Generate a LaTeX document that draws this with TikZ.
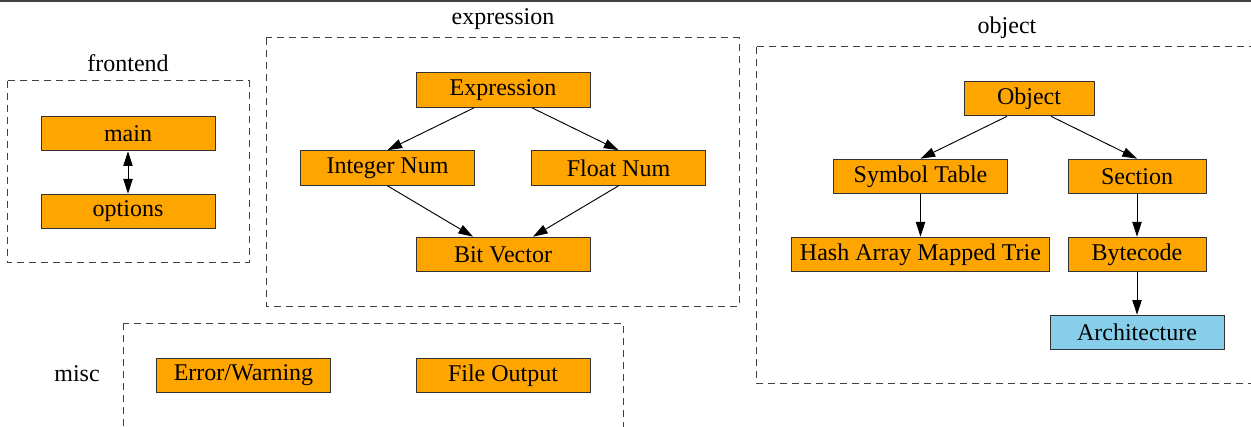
\documentclass[tikz,border=0pt]{standalone}
\usepackage{fontspec}
\setmainfont{Liberation Serif}
\usepackage{xcolor}
\usepackage{tikz}
\usetikzlibrary{arrows.meta,positioning,calc}
\definecolor{modorange}{HTML}{FFA500}
\definecolor{modblue}{HTML}{87CEEB}
\tikzset{
  modbox/.style={draw=black!80,fill=modorange,line width=0.75pt,inner sep=0pt,
    minimum height=26pt,font=\fontsize{18}{20}\selectfont},
  archbox/.style={modbox,fill=modblue},
  clusterbox/.style={draw=black!75,line width=0.75pt,dash pattern=on 5.5pt off 3.5pt},
  clusterlabel/.style={font=\fontsize{18}{20}\selectfont,inner sep=0pt},
  deparrow/.style={-{Triangle[length=11pt,width=7pt]},line width=0.7pt},
  bothwayarrow/.style={{Triangle[length=11pt,width=7pt]}-{Triangle[length=11pt,width=7pt]},line width=0.7pt}
}

\begin{document}
\begin{tikzpicture}[x=0.75pt,y=-0.75pt]
  \useasboundingbox (0,0) rectangle (1251,427);
  \clip (0,0) rectangle (1251,427);
  \draw[black!75,line width=1pt] (0,1) -- (1251,1);

  % clusters
  \draw[clusterbox] (7,81) rectangle (249,263);
  \draw[clusterbox] (266,38) rectangle (739,306);
  \draw[clusterbox] (756,47) rectangle (1270,383);
  \draw[clusterbox] (123,323) rectangle (623,450);
  \node[clusterlabel] (frontendlbl) at (128,63) {frontend};
  \node[clusterlabel] (expressionlbl) at (503,19) {expression};
  \node[clusterlabel] (objectlbl) at (1007,28) {object};
  \node[clusterlabel] (misclbl) at (77,374) {misc};

  % frontend
  \node[modbox,minimum width=130.5pt] (main) at (128,133.5) {main};
  \node[modbox,minimum width=130.5pt] (options) at (128,211.5) {options};
  \draw[bothwayarrow] (main) -- (options);

  % expression
  \node[modbox,minimum width=130.5pt] (expr) at (503,90) {Expression};
  \node[modbox,minimum width=130pt] (intnum) at (387.5,168) {Integer Num};
  \node[modbox,minimum width=130pt] (floatnum) at (618.5,168) {Float Num};
  \node[modbox,minimum width=130.5pt] (bitvec) at (503,254.5) {Bit Vector};
  \draw[deparrow] ($(expr.south)+(-29,0)$) -- (intnum.north);
  \draw[deparrow] ($(expr.south)+(29,0)$) -- (floatnum.north);
  \draw[deparrow] (intnum.south) -- ($(bitvec.north)+(-30,0)$);
  \draw[deparrow] (floatnum.south) -- ($(bitvec.north)+(30,0)$);

  % object
  \node[modbox,minimum width=97.5pt] (object) at (1029,98.5) {Object};
  \node[modbox,minimum width=130pt] (symtab) at (920.5,176.5) {Symbol Table};
  \node[modbox,minimum width=103.5pt] (section) at (1137,176.5) {Section};
  \node[modbox,minimum width=194pt] (hamt) at (920.5,254.5) {Hash Array Mapped Trie};
  \node[modbox,minimum width=103.5pt] (bytecode) at (1137,254.5) {Bytecode};
  \node[archbox,minimum width=130.5pt] (arch) at (1137,332.5) {Architecture};
  \draw[deparrow] ($(object.south)+(-22,0)$) -- (symtab.north);
  \draw[deparrow] ($(object.south)+(22,0)$) -- (section.north);
  \draw[deparrow] (symtab) -- (hamt);
  \draw[deparrow] (section) -- (bytecode);
  \draw[deparrow] (bytecode) -- (arch);

  % misc
  \node[modbox,minimum width=130pt] (errwarn) at (243.5,375.5) {Error/Warning};
  \node[modbox,minimum width=130.5pt] (fileout) at (503,375.5) {File Output};
\end{tikzpicture}
\end{document}
